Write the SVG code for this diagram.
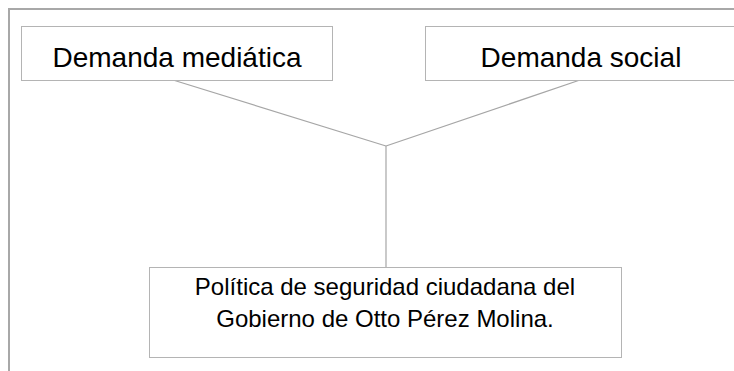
<svg xmlns="http://www.w3.org/2000/svg" width="734" height="371" viewBox="0 0 734 371">
<style>
.box{fill:#fff;stroke:#b4b4b4;stroke-width:1}
.t{font-family:"Liberation Sans",Arial,sans-serif;fill:#000;text-anchor:middle}
.big{font-size:28px}
.small{font-size:24px}
.c{stroke:#a6a6a6;stroke-width:1.2;fill:none}
</style>
<rect x="0" y="0" width="734" height="371" fill="#fff"/>
<path d="M9 371 V9 H734" fill="none" stroke="#a8a8a8" stroke-width="2"/>
<g id="connectors">
<line class="c" x1="173" y1="80" x2="386" y2="146"/>
<line class="c" x1="580" y1="80" x2="386" y2="146"/>
<line class="c" x1="386" y1="146" x2="386" y2="267"/>
</g>
<g id="n1">
<rect class="box" x="21.5" y="26.5" width="311" height="54"/>
<text class="t big" x="177" y="67">Demanda mediática</text>
</g>
<g id="n2">
<rect class="box" x="425.5" y="26.5" width="320" height="54"/>
<text class="t big" x="581" y="67">Demanda social</text>
</g>
<g id="n3">
<rect class="box" x="149.5" y="267.5" width="472" height="90"/>
<text class="t small" x="385" y="295">Política de seguridad ciudadana del</text>
<text class="t small" x="385" y="327">Gobierno de Otto Pérez Molina.</text>
</g>
</svg>
